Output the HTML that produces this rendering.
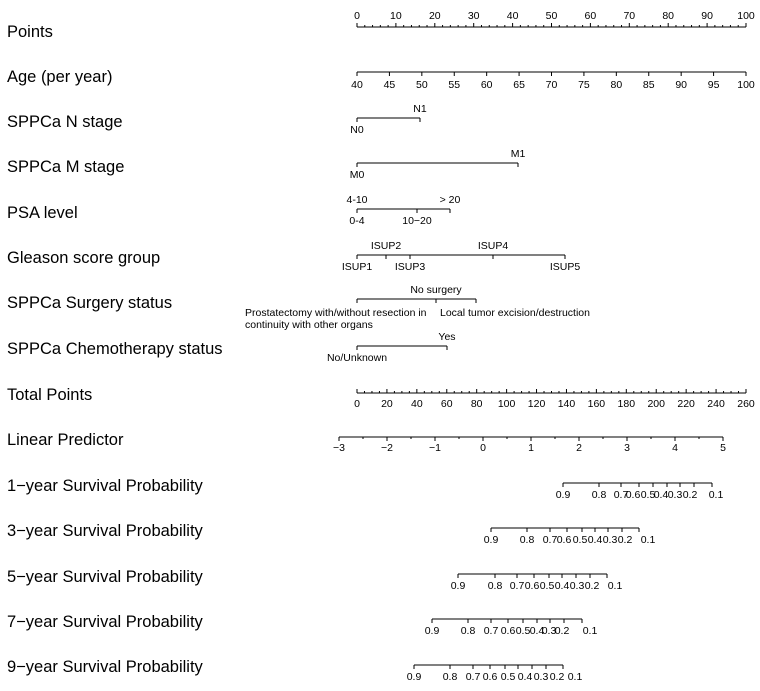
<!DOCTYPE html>
<html><head><meta charset="utf-8"><style>
html,body{margin:0;padding:0;background:#fff;}
svg{display:block;font-family:"Liberation Sans",Arial,sans-serif;}
.t{font-size:16.5px;fill:#000;}
.l{font-size:10.5px;fill:#000;}
</style></head><body>
<svg id="s" width="760" height="691" viewBox="0 0 760 691" xmlns="http://www.w3.org/2000/svg"></svg>
<script>
var s=document.getElementById('s'),h='';
function L(x1,y1,x2,y2){h+='<line x1="'+x1+'" y1="'+y1+'" x2="'+x2+'" y2="'+y2+'" stroke="#000" stroke-width="1"/>';}
function T(x,y,t,c,a){h+='<text class="'+(c||'l')+'" x="'+x+'" y="'+y+'" text-anchor="'+(a||'middle')+'">'+t+'</text>';}
var titles=[["Points",32],["Age (per year)",77],["SPPCa N stage",122],["SPPCa M stage",167],["PSA level",213],["Gleason score group",258],["SPPCa Surgery status",303],["SPPCa Chemotherapy status",349],["Total Points",395],["Linear Predictor",440],["1\u2212year Survival Probability",486],["3\u2212year Survival Probability",531],["5\u2212year Survival Probability",577],["7\u2212year Survival Probability",622],["9\u2212year Survival Probability",667]];
titles.forEach(function(t){T(7,t[1]+5,t[0],'t','start');});
var y=27;L(357,y,746,y);
for(var i=0;i<=100;i+=2){var x=357+i*3.89;L(x,y,x,y-(i%10==0?4:2));if(i%10==0)T(x,y-8,i);}
y=72;L(357,y,746,y);
for(var a=40;a<=100;a+=5){var x=357+(a-40)*389/60;L(x,y,x,y+4);T(x,y+16,a);}
function C(y,x1,x2,ticks){L(x1,y,x2,y);ticks.forEach(function(k){L(k[0],y,k[0],y+4);if(k[1])T(k[0],y-6,k[1]);if(k[2])T(k[0],y+15,k[2]);});}
C(118,357,420,[[357,null,'N0'],[420,'N1',null]]);
C(163,357,518,[[357,null,'M0'],[518,'M1',null]]);
C(209,357,450,[[357,'4-10','0-4'],[417,null,'10\u221220'],[450,'&gt; 20',null]]);
C(255,357,565,[[357,null,'ISUP1'],[386,'ISUP2',null],[410,null,'ISUP3'],[493,'ISUP4',null],[565,null,'ISUP5']]);
C(299,357,476,[[357,null,null],[436,'No surgery',null],[476,null,null]]);
T(245,316,'Prostatectomy with/without resection in','l','start');
T(245,328,'continuity with other organs','l','start');
T(440,316,'Local tumor excision/destruction','l','start');
C(346,357,447,[[357,null,'No/Unknown'],[447,'Yes',null]]);
y=393;L(357,y,746,y);
for(var i=0;i<=260;i+=5){var x=357+i*389/260;L(x,y,x,y-(i%20==0?4:2));if(i%20==0)T(x,y+14,i);}
y=437;L(339,y,723,y);
for(var v=-3;v<=5;v+=0.5){var x=483+v*48;L(x,y,x,y+(v%1==0?4:2));if(v%1==0)T(x,y+14,v<0?'\u2212'+(-v):v);}
function S(y,ticks,labs){L(ticks[0],y,ticks[ticks.length-1],y);ticks.forEach(function(x){L(x,y,x,y+4);});
var n=['0.9','0.8','0.7','0.6','0.5','0.4','0.3','0.2','0.1'];labs.forEach(function(x,i){T(x,y+15,n[i]);});}
S(483,[563,599,621,639,653,667,680,694,712],[563,599,621,633,648,661,675,690,716]);
S(528,[491,527,550,567,582,595,608,622,639],[491,527,550,564,580,595,610,625,648]);
S(574,[458,495,517,534,549,562,576,590,607],[458,495,517,532,547,562,577,592,615]);
S(619,[432,468,491,508,523,537,550,564,582],[432,468,491,508,523,537,549,562,590]);
S(665,[414,450,473,490,505,518,532,546,563],[414,450,473,490,508,525,541,557,575]);
s.innerHTML=h;
</script>
</body></html>
